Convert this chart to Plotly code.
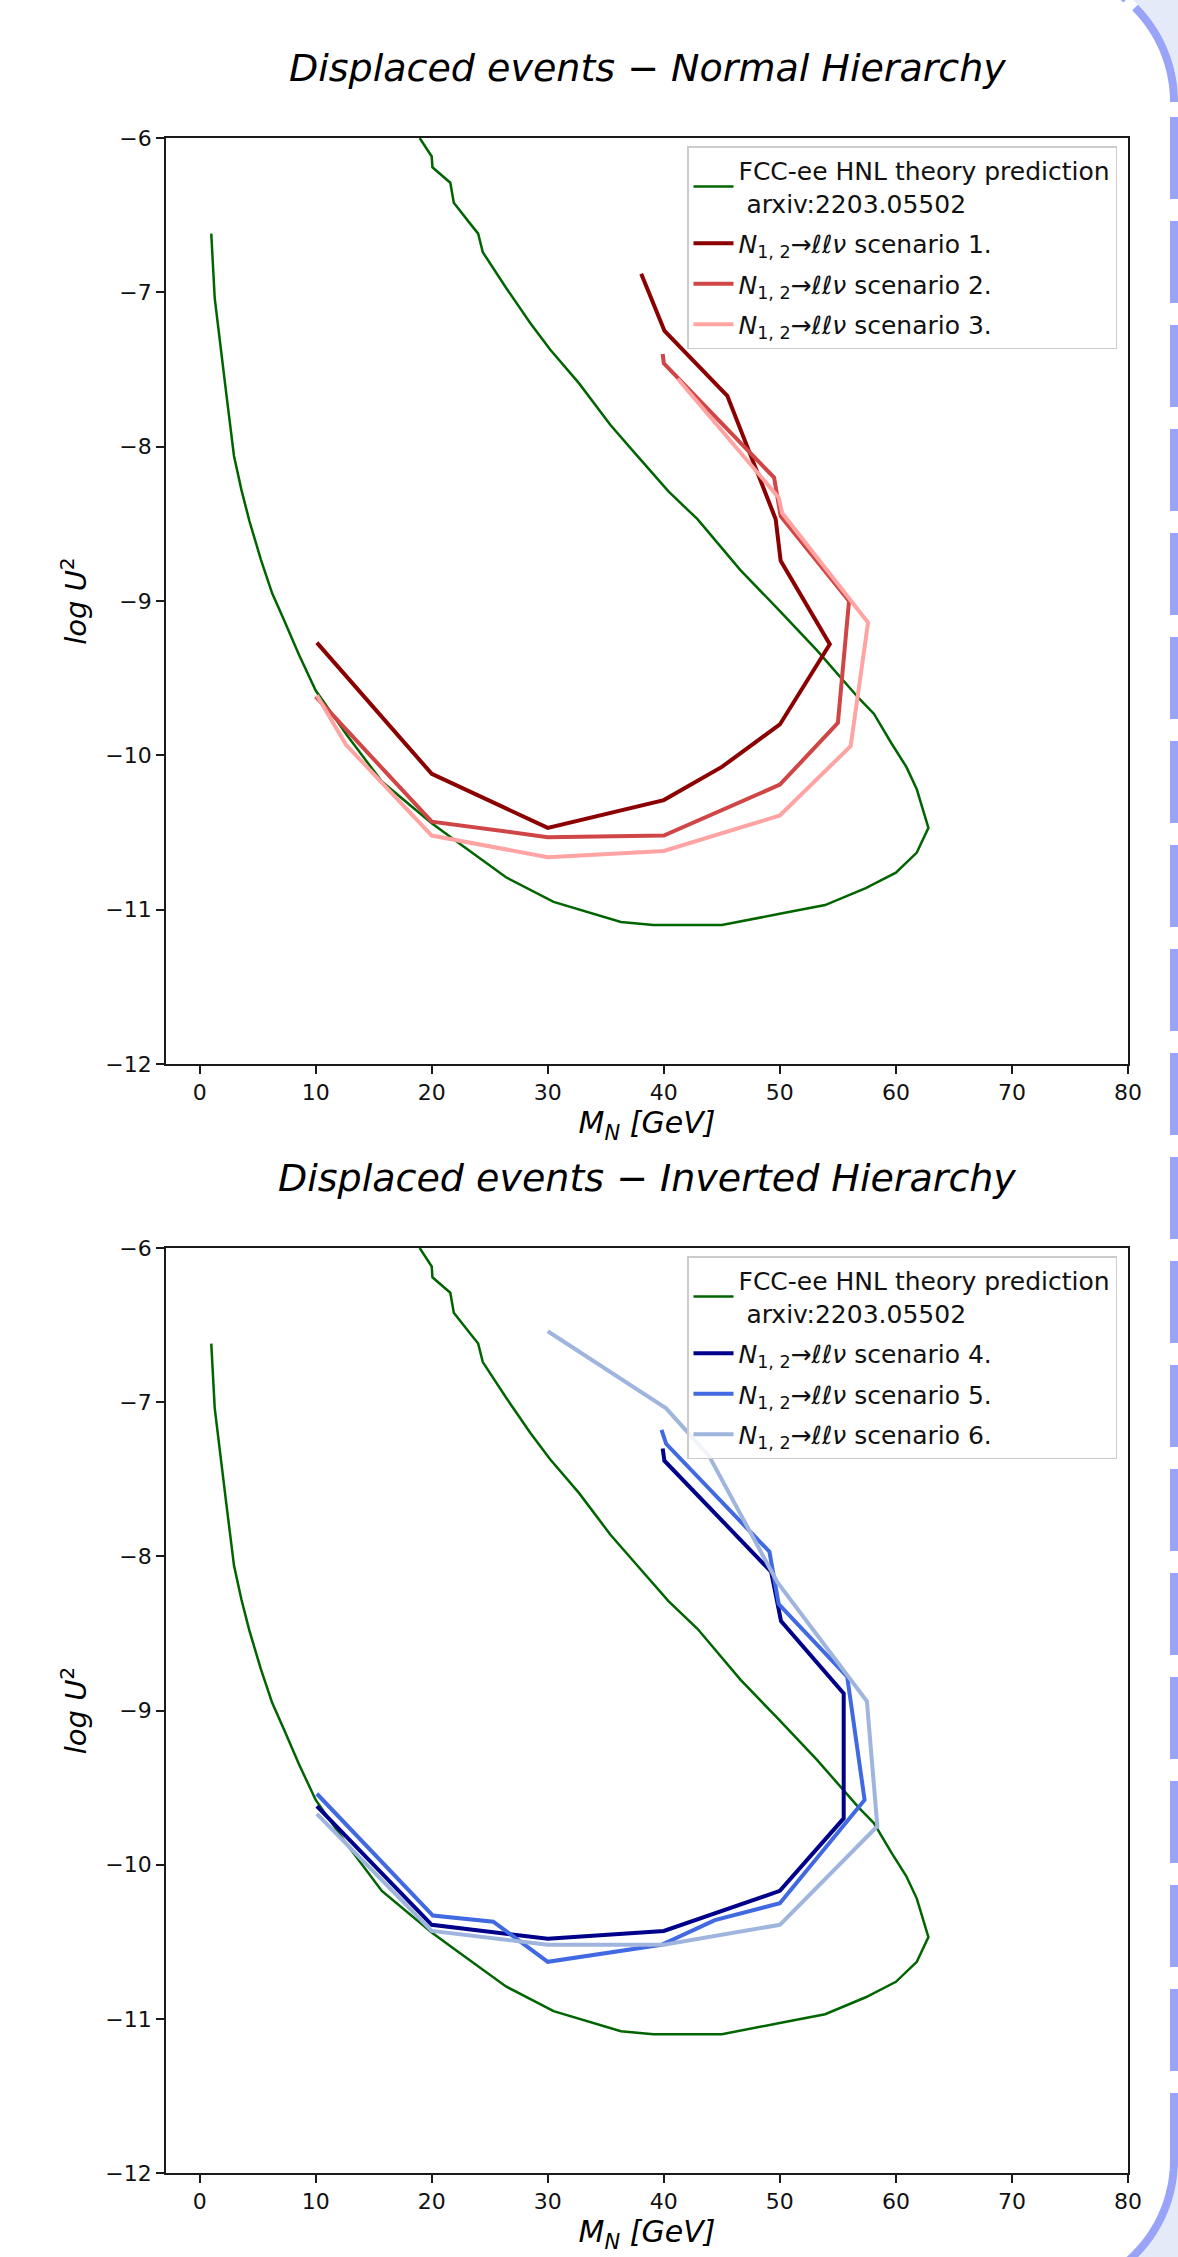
import math
import plotly.graph_objects as go

W, H = 1178, 2257

# ---------------- data ----------------
theory_mass = [1.0, 1.3, 2.3, 2.96, 3.6, 4.28, 5.27, 6.25, 7.25, 8.57, 10.0, 12.7, 15.7,
               20.0, 22.0, 26.4, 30.5, 36.3, 39.1, 45.0, 50.1, 53.9, 57.4, 60.0, 61.8,
               62.8, 61.8, 60.9, 59.6, 58.1, 56.8, 53.2, 49.8, 46.6, 42.9, 40.4, 37.6,
               35.4, 32.7, 30.2, 28.5, 26.4, 24.4, 24.0, 23.26, 21.9, 21.6, 20.06, 20.0, 18.96]
theory_logu2 = [-6.62, -7.04, -7.66, -8.06, -8.28, -8.48, -8.73, -8.95, -9.12, -9.35, -9.58,
                -9.87, -10.17, -10.44, -10.55, -10.79, -10.95, -11.08, -11.10, -11.10, -11.025,
                -10.97, -10.86, -10.76, -10.63, -10.47, -10.22, -10.075, -9.92, -9.73, -9.63,
                -9.32, -9.05, -8.80, -8.47, -8.29, -8.05, -7.86, -7.59, -7.37, -7.20, -6.97,
                -6.74, -6.62, -6.55, -6.42, -6.29, -6.19, -6.12, -6.0]

s1_mass = [38.05, 40.06, 45.47, 49.64, 50.07, 54.3, 50.0, 45.0, 40.0, 30.0, 20.0, 10.1]
s1_logu2 = [-6.88, -7.25, -7.67, -8.47, -8.74, -9.28, -9.80, -10.075, -10.29, -10.47, -10.12, -9.27]

s2_mass = [39.9, 40.0, 49.5, 50.07, 55.96, 55.0, 50.0, 40.0, 30.0, 20.0, 10.0]
s2_logu2 = [-7.40, -7.46, -8.20, -8.45, -9.00, -9.79, -10.19, -10.52, -10.53, -10.43, -9.62]

s3_mass = [41.2, 49.9, 50.2, 57.6, 56.1, 50.0, 40.0, 30.0, 20.0, 12.6, 10.1]
s3_logu2 = [-7.56, -8.33, -8.43, -9.14, -9.94, -10.39, -10.62, -10.66, -10.52, -9.93, -9.61]

s4_mass = [39.9, 40.05, 49.25, 50.1, 55.5, 55.5, 50.0, 45.0, 40.0, 30.0, 20.0, 10.1]
s4_logu2 = [-7.30, -7.38, -8.10, -8.42, -8.89, -9.70, -10.17, -10.30, -10.43, -10.48, -10.39, -9.62]

s5_mass = [39.8, 40.2, 49.1, 49.9, 55.8, 57.3, 50.0, 44.4, 39.8, 30.0, 25.3, 20.1, 10.1]
s5_logu2 = [-7.18, -7.27, -7.97, -8.31, -8.78, -9.58, -10.25, -10.36, -10.52, -10.63, -10.37, -10.33, -9.54]

s6_mass = [30.0, 40.2, 43.9, 49.8, 57.5, 58.4, 50.0, 40.0, 30.0, 20.0, 10.1]
s6_logu2 = [-6.54, -7.04, -7.35, -8.17, -8.94, -9.75, -10.39, -10.52, -10.52, -10.43, -9.67]

x_ticks = [0, 10, 20, 30, 40, 50, 60, 70, 80]
y_ticks = [-12, -11, -10, -9, -8, -7, -6]

titles = ["Displaced events − Normal Hierarchy", "Displaced events − Inverted Hierarchy"]
theory_label = "FCC-ee HNL theory prediction<br> arxiv:2203.05502"
scen_label = "<i>N</i><sub>1, 2</sub>→<i>ℓℓν</i> scenario {}."

# ---------------- helpers ----------------
def PX(x):
    return x / W


def PY(y):
    return 1 - y / H


FONT = "DejaVu Sans"

fig = go.Figure()

top_series = [
    (s1_mass, s1_logu2, "#8b0000", 1),
    (s2_mass, s2_logu2, "#d04545", 2),
    (s3_mass, s3_logu2, "#ffa3a3", 3),
]
bot_series = [
    (s4_mass, s4_logu2, "#00008b", 4),
    (s5_mass, s5_logu2, "#4169e1", 5),
    (s6_mass, s6_logu2, "#9fb5de", 6),
]

for panel, (series, xa, ya, leg) in enumerate([
    (top_series, "x", "y", "legend"),
    (bot_series, "x2", "y2", "legend2"),
]):
    fig.add_trace(go.Scatter(
        x=theory_mass, y=theory_logu2, mode="lines",
        line=dict(color="#006400", width=2.5),
        name=theory_label, xaxis=xa, yaxis=ya, legend=leg,
        legendgroup=f"th{panel}", showlegend=True,
    ))
    for mx, my, col, k in series:
        fig.add_trace(go.Scatter(
            x=mx, y=my, mode="lines",
            line=dict(color=col, width=4),
            name=scen_label.format(k), xaxis=xa, yaxis=ya, legend=leg,
            legendgroup=f"s{k}", showlegend=True,
        ))

xdom = [PX(166), PX(1128)]
ydom_top = [PY(1064), PY(138)]
ydom_bot = [PY(2173), PY(1248)]

axis_common = dict(
    showline=True, mirror=True, linecolor="#1a1a1a", linewidth=1.6,
    ticks="outside", ticklen=8, tickwidth=1.5, tickcolor="#1a1a1a",
    showgrid=False, zeroline=False, automargin=False,
    tickfont=dict(family=FONT, size=22, color="#111111"),
)

xtitle = dict(text="<i>M</i><sub><i>N</i></sub> <i>[GeV]</i>",
              font=dict(family=FONT, size=30, color="black"), standoff=4)
ytitle = dict(text="<i>log U</i><sup>2</sup>",
              font=dict(family=FONT, size=29, color="black"), standoff=10)

fig.update_layout(
    width=W, height=H, autosize=False,
    margin=dict(l=0, r=0, t=0, b=0),
    paper_bgcolor="white", plot_bgcolor="white",
    xaxis=dict(domain=xdom, range=[-2.9, 80], anchor="y", tickmode="array",
               tickvals=x_ticks, title=xtitle, **axis_common),
    yaxis=dict(domain=ydom_top, range=[-12, -6], anchor="x", tickmode="array",
               tickvals=y_ticks, title=ytitle, **axis_common),
    xaxis2=dict(domain=xdom, range=[-2.9, 80], anchor="y2", tickmode="array",
                tickvals=x_ticks, title=xtitle, **axis_common),
    yaxis2=dict(domain=ydom_bot, range=[-12, -6], anchor="x2", tickmode="array",
                tickvals=y_ticks, title=ytitle, **axis_common),
)

legend_common = dict(
    xanchor="right", yanchor="top",
    bgcolor="rgba(255,255,255,0.85)", bordercolor="#cccccc", borderwidth=1.5,
    font=dict(family=FONT, size=25, color="#111111"),
    traceorder="grouped", tracegroupgap=5, valign="middle", itemwidth=40,
)
fig.update_layout(
    legend=dict(x=PX(1117), y=PY(146), **legend_common),
    legend2=dict(x=PX(1117), y=PY(1256), **legend_common),
)

# titles
for t, yc in zip(titles, [68, 1178]):
    fig.add_annotation(
        text=f"<i>{t}</i>", xref="paper", yref="paper",
        x=PX(647), y=PY(yc), xanchor="center", yanchor="middle",
        showarrow=False, font=dict(family=FONT, size=38, color="black"),
    )

# ---------------- slide frame decoration on the right edge ----------------
FRAME = "rgb(153,163,247)"
FILL = "rgb(228,234,247)"


def arc_points(cx, cy, r, a0, a1, n=40):
    pts = []
    for i in range(n + 1):
        a = a0 + (a1 - a0) * i / n
        pts.append((cx + r * math.cos(a), cy + r * math.sin(a)))
    return pts


def path_from(pts, close=False):
    s = "M " + " L ".join(f"{PX(x):.5f},{PY(y):.5f}" for x, y in pts)
    return s + (" Z" if close else "")


# top-right corner
cxt, cyt, r = 1040, 102, 134
a_top = -math.asin(102 / r)
top_arc = arc_points(cxt, cyt, r, a_top - 0.35, 0)
fill_top = arc_points(cxt, cyt, r + 4, a_top - 0.35, 0)
fig.add_shape(type="path", xref="paper", yref="paper",
              path=path_from(fill_top + [(1178, 102), (1178, -60)], close=True),
              fillcolor=FILL, line=dict(width=0), layer="below")
fig.add_shape(type="path", xref="paper", yref="paper", path=path_from(top_arc),
              line=dict(color=FRAME, width=8, dash="46px,12px,300px"))

# bottom-right corner
cxb, cyb = 1040, 2160
bot_arc = arc_points(cxb, cyb, r, 0, 0.95)
fill_bot = arc_points(cxb, cyb, r + 4, 0, 0.95)
fig.add_shape(type="path", xref="paper", yref="paper",
              path=path_from(fill_bot + [(1178, 2320), (1178, 2160)], close=True),
              fillcolor=FILL, line=dict(width=0), layer="below")
fig.add_shape(type="path", xref="paper", yref="paper", path=path_from(bot_arc),
              line=dict(color=FRAME, width=8))

# dashed right edge
fig.add_shape(type="line", xref="paper", yref="paper",
              x0=PX(1174), x1=PX(1174), y0=PY(117), y1=PY(2160),
              line=dict(color=FRAME, width=8, dash="82px,22px"))

fig.write_html("out.html")
